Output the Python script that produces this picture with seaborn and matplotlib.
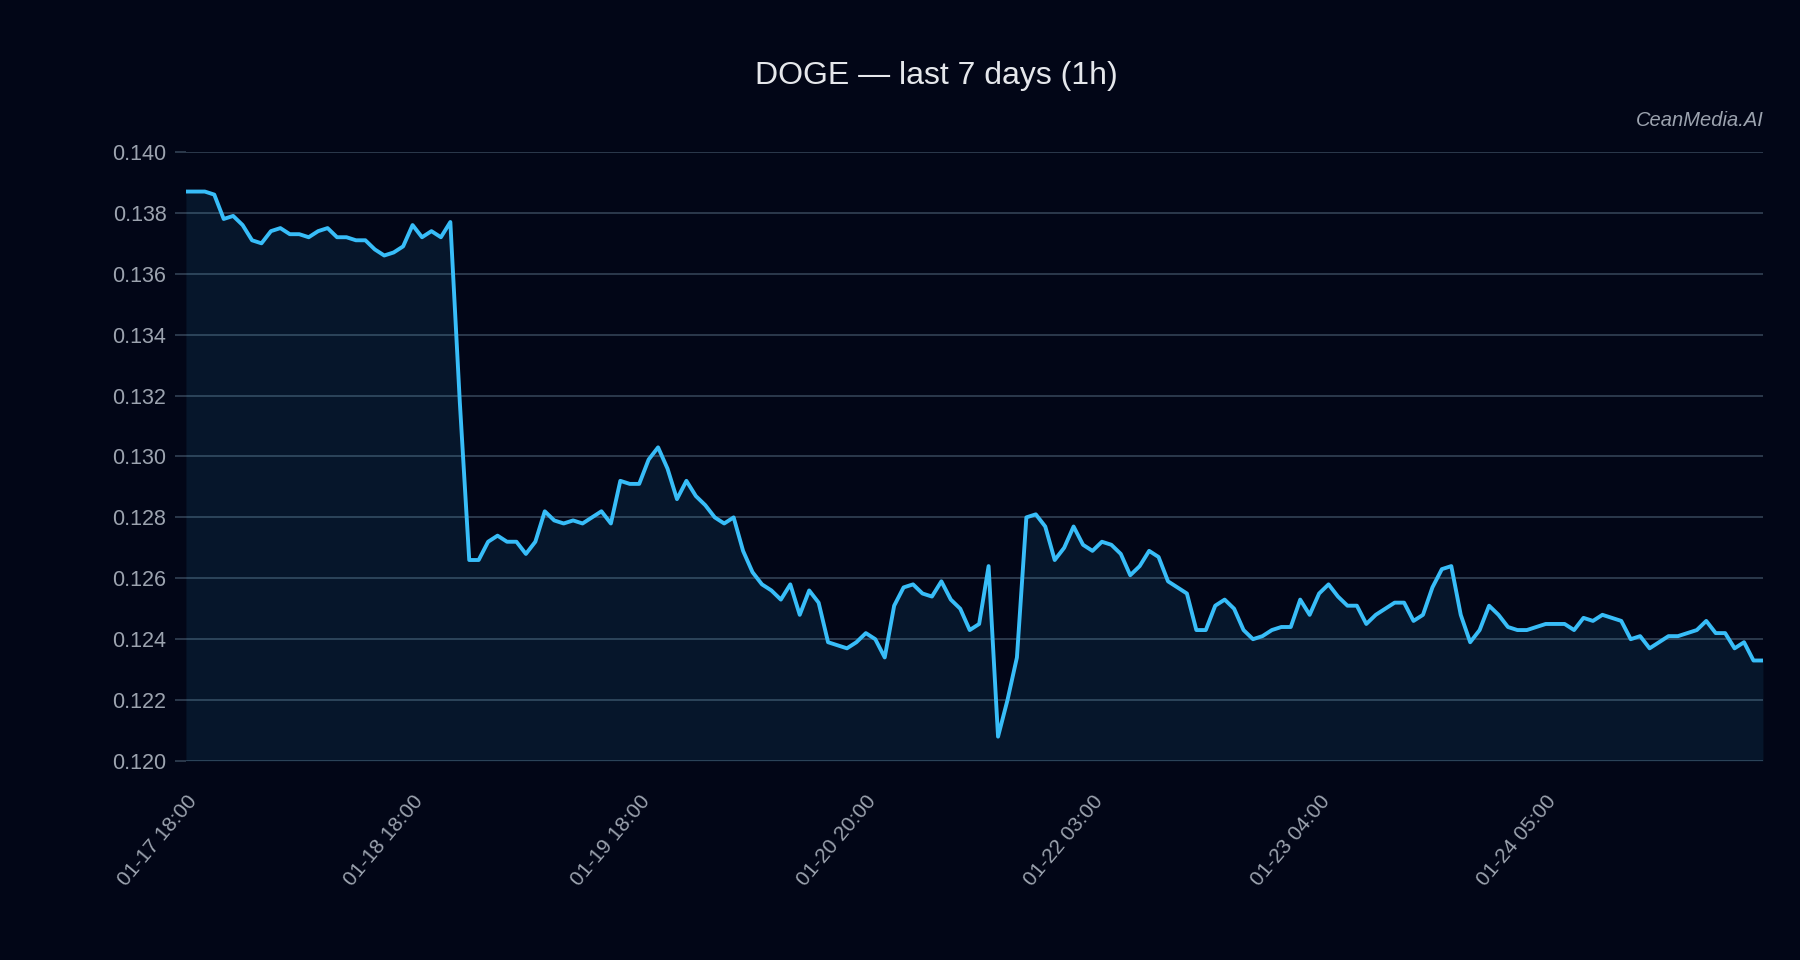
import numpy as np
import pandas as pd
import matplotlib
matplotlib.use("Agg")
import matplotlib.pyplot as plt
import seaborn as sns

# DOGE hourly close, last 7 days
prices = [
    0.1387, 0.1387, 0.1387, 0.1386, 0.1378, 0.1379, 0.1376, 0.1371, 0.1370, 0.1374,
    0.1375, 0.1373, 0.1373, 0.1372, 0.1374, 0.1375, 0.1372, 0.1372, 0.1371, 0.1371,
    0.1368, 0.1366, 0.1367, 0.1369, 0.1376, 0.1372, 0.1374, 0.1372, 0.1377, 0.1318,
    0.1266, 0.1266, 0.1272, 0.1274, 0.1272, 0.1272, 0.1268, 0.1272, 0.1282, 0.1279,
    0.1278, 0.1279, 0.1278, 0.1280, 0.1282, 0.1278, 0.1292, 0.1291, 0.1291, 0.1299,
    0.1303, 0.1296, 0.1286, 0.1292, 0.1287, 0.1284, 0.1280, 0.1278, 0.1280, 0.1269,
    0.1262, 0.1258, 0.1256, 0.1253, 0.1258, 0.1248, 0.1256, 0.1252, 0.1239, 0.1238,
    0.1237, 0.1239, 0.1242, 0.1240, 0.1234, 0.1251, 0.1257, 0.1258, 0.1255, 0.1254,
    0.1259, 0.1253, 0.1250, 0.1243, 0.1245, 0.1264, 0.1208, 0.1220, 0.1234, 0.1280,
    0.1281, 0.1277, 0.1266, 0.1270, 0.1277, 0.1271, 0.1269, 0.1272, 0.1271, 0.1268,
    0.1261, 0.1264, 0.1269, 0.1267, 0.1259, 0.1257, 0.1255, 0.1243, 0.1243, 0.1251,
    0.1253, 0.1250, 0.1243, 0.1240, 0.1241, 0.1243, 0.1244, 0.1244, 0.1253, 0.1248,
    0.1255, 0.1258, 0.1254, 0.1251, 0.1251, 0.1245, 0.1248, 0.1250, 0.1252, 0.1252,
    0.1246, 0.1248, 0.1257, 0.1263, 0.1264, 0.1248, 0.1239, 0.1243, 0.1251, 0.1248,
    0.1244, 0.1243, 0.1243, 0.1244, 0.1245, 0.1245, 0.1245, 0.1243, 0.1247, 0.1246,
    0.1248, 0.1247, 0.1246, 0.1240, 0.1241, 0.1237, 0.1239, 0.1241, 0.1241, 0.1242,
    0.1243, 0.1246, 0.1242, 0.1242, 0.1237, 0.1239, 0.1233, 0.1233,
]
tick_labels = ["01-17 18:00", "01-18 18:00", "01-19 18:00", "01-20 20:00",
               "01-22 03:00", "01-23 04:00", "01-24 05:00"]
tick_every = 24

bg = "#020617"
line_color = "#38bdf8"
grid_color = "#334155"
text_color = "#9ca3af"

df = pd.DataFrame({"i": np.arange(len(prices)), "price": prices})

sns.set_theme(style="dark")
plt.rcParams["font.family"] = ["Liberation Sans", "DejaVu Sans"]
plt.rcParams["ytick.left"] = True

fig = plt.figure(figsize=(18, 9.6), dpi=100, facecolor=bg)
ax = fig.add_axes([0.1033, 0.2073, 0.8761, 0.6344])
ax.set_facecolor(bg)

ax.fill_between(df["i"], df["price"], 0.120, color=line_color, alpha=0.09, linewidth=0)
sns.lineplot(data=df, x="i", y="price", ax=ax, color=line_color, linewidth=2.8)

ax.set_xlim(0, len(prices) - 1)
ax.set_ylim(0.120, 0.140)
ax.set_yticks(np.arange(0.120, 0.1401, 0.002))
ax.yaxis.set_major_formatter(matplotlib.ticker.FormatStrFormatter("%.3f"))
ax.set_xticks(np.arange(len(tick_labels)) * tick_every)
ax.set_xticklabels(tick_labels, rotation=50, ha="right", rotation_mode="anchor")
ax.tick_params(axis="y", left=True, colors=grid_color, labelcolor=text_color,
               labelsize=15.5, length=8, width=1.2, pad=6)
ax.tick_params(axis="x", colors=grid_color, labelcolor=text_color, labelsize=15,
               length=0, pad=22)
ax.grid(axis="y", color=grid_color, linewidth=1.2)
ax.grid(axis="x", visible=False)
for s in ax.spines.values():
    s.set_visible(False)
ax.set_xlabel("")
ax.set_ylabel("")

fig.text(0.52, 0.921, "DOGE — last 7 days (1h)", ha="center", va="center",
         color="#e5e7eb", fontsize=23)
fig.text(0.980, 0.874, "CeanMedia.AI", ha="right", va="center", color=text_color,
         fontsize=14.5, style="italic")

fig.savefig("out.png", dpi=100, facecolor=bg)
